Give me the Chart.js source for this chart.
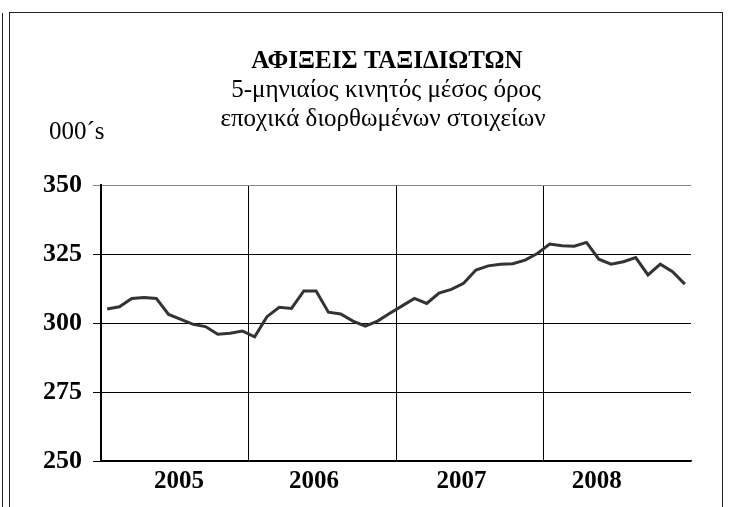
<!DOCTYPE html>
<html lang="el">
<head>
  <meta charset="UTF-8">
  <title>Αφίξεις ταξιδιωτών</title>
  <script src="https://cdn.jsdelivr.net/npm/chart.js"></script>
  <style>
    body {
      margin: 0;
      background: #fff;
      width: 731px;
      height: 507px;
      overflow: hidden;
      position: relative;
    }
    .edge {
      position: absolute;
      left: 2px;
      top: 13px;
      width: 0;
      height: 520px;
      border-left: 1.5px solid #222;
    }
    .frame {
      position: absolute;
      left: 9px;
      top: 12px;
      width: 712px;
      height: 520px;
      border: 1.5px solid #222;
    }
    #chart {
      position: absolute;
      left: 0;
      top: 0;
    }
  </style>
</head>
<body>
  <div class="edge"></div>
  <div class="frame"></div>
  <canvas id="chart" width="731" height="507"></canvas>

  <script>
    const years = ['2005', '2006', '2007', '2008'];
    const months = ['01', '02', '03', '04', '05', '06', '07', '08', '09', '10', '11', '12'];

    // 5-month moving average, thousands, Jan 2005 - Dec 2008
    const arrivals2005 = [305.1, 305.9, 308.9, 309.2, 308.9, 303.1, 301.3, 299.5, 298.7, 295.9, 296.3, 297.1];
    const arrivals2006 = [295.0, 302.3, 305.7, 305.3, 311.6, 311.6, 303.9, 303.3, 300.7, 298.9, 300.7, 303.5];
    const arrivals2007 = [306.2, 308.9, 307.1, 310.8, 312.2, 314.4, 319.2, 320.7, 321.3, 321.5, 322.8, 325.2];
    const arrivals2008 = [328.6, 328.0, 327.8, 329.2, 323.1, 321.3, 322.2, 323.7, 317.4, 321.3, 318.6, 314.1];

    // where the year labels sit (month index on the axis)
    const yearLabelAt = [6, 17, 29, 40];

    const titleText = 'ΑΦΙΞΕΙΣ ΤΑΞΙΔΙΩΤΩΝ';
    const subtitleLines = ['5-μηνιαίος κινητός μέσος όρος', 'εποχικά διορθωμένων στοιχείων'];
    const unitText = '000´s';

    const categories = years.flatMap(y => months.map(m => y + '-' + m));
    const values = [...arrivals2005, ...arrivals2006, ...arrivals2007, ...arrivals2008];

    const serif = "'Liberation Serif', 'Times New Roman', serif";

    // headings drawn on the canvas
    const headingPlugin = {
      id: 'headings',
      afterDraw(chart) {
        const ctx = chart.ctx;
        ctx.save();
        ctx.fillStyle = '#000';
        ctx.textBaseline = 'alphabetic';
        ctx.textAlign = 'center';
        ctx.font = 'bold 25px ' + serif;
        ctx.fillText(titleText, 387, 68);
        ctx.font = '25px ' + serif;
        ctx.fillText(subtitleLines[0], 386, 97);
        ctx.fillText(subtitleLines[1], 383, 126);
        ctx.textAlign = 'left';
        ctx.fillText(unitText, 49, 139);
        ctx.restore();
      }
    };

    new Chart(document.getElementById('chart'), {
      type: 'line',
      data: {
        labels: categories,
        datasets: [{
          data: values,
          borderColor: '#333',
          borderWidth: 3,
          pointRadius: 0,
          tension: 0,
          fill: false
        }]
      },
      options: {
        responsive: false,
        animation: false,
        layout: { padding: { top: 185, right: 40, bottom: 0, left: 0 } },
        plugins: {
          legend: { display: false },
          tooltip: { enabled: false }
        },
        scales: {
          x: {
            offset: true,
            grid: {
              offset: true,
              drawTicks: false,
              color: c => (c.index % 12 === 0 ? '#000' : 'rgba(0,0,0,0)'),
              lineWidth: 1
            },
            border: { color: '#000', width: 1.5 },
            ticks: {
              autoSkip: false,
              maxRotation: 0,
              minRotation: 0,
              padding: 6,
              labelOffset: -2,
              color: '#000',
              font: { family: serif, size: 25, weight: 'bold' },
              callback: (v, i) => {
                const k = yearLabelAt.indexOf(i);
                return k >= 0 ? years[k] : '';
              }
            },
            afterFit: s => { s.height = 46; }
          },
          y: {
            min: 250,
            max: 350,
            ticks: {
              stepSize: 25,
              padding: 11,
              color: '#000',
              font: { family: serif, size: 26, weight: 'bold' }
            },
            grid: {
              color: c => (c.tick && c.tick.value === 350 ? '#888' : '#000'),
              tickLength: 8,
              lineWidth: 1
            },
            border: { color: '#000', width: 2 },
            afterFit: s => { s.width = 101; }
          }
        }
      },
      plugins: [headingPlugin]
    });
  </script>
</body>
</html>
